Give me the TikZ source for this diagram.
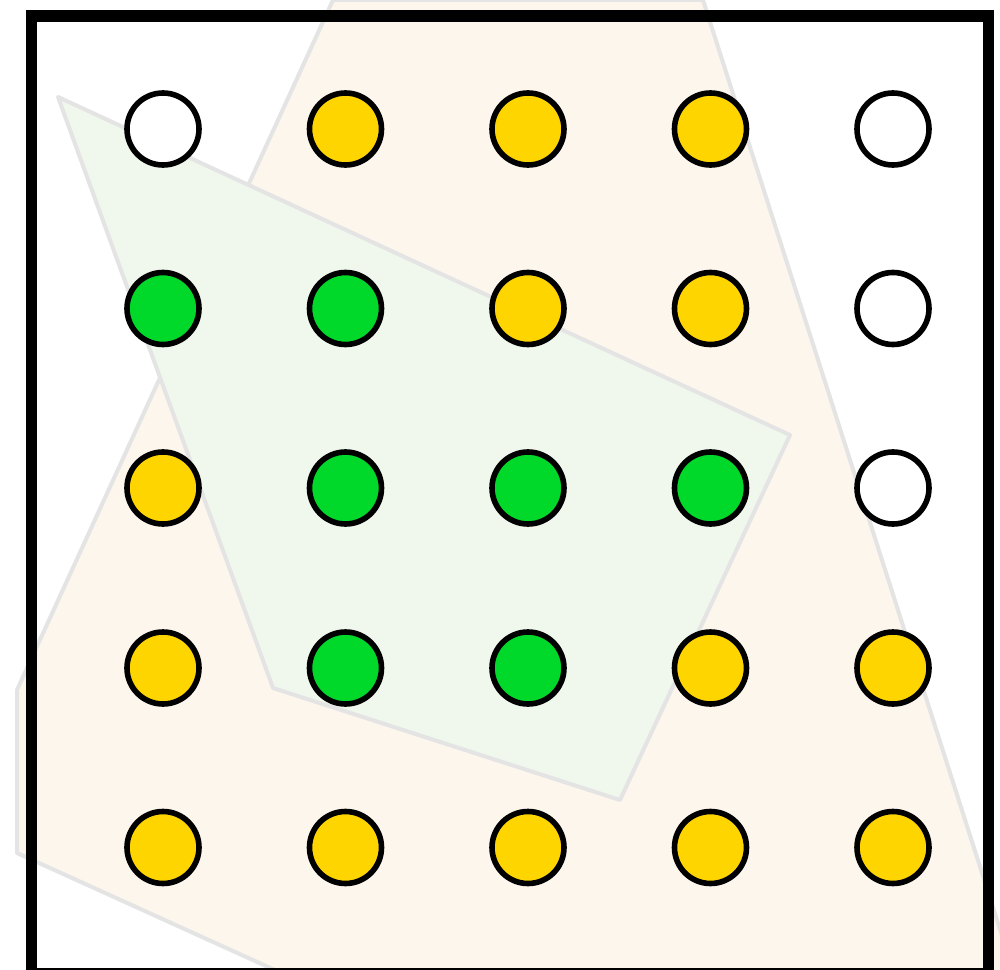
\documentclass[tikz,border=0pt]{standalone}
\definecolor{creamfill}{RGB}{253,246,236}
\definecolor{mintfill}{RGB}{240,247,236}
\definecolor{edgegray}{RGB}{228,228,228}
\definecolor{dotyellow}{RGB}{255,213,0}
\definecolor{dotgreen}{RGB}{0,216,42}
\tikzset{
  region/.style={draw=edgegray, line width=3pt, line join=round},
  dot/.style={circle, draw=black, line width=4.2pt, minimum size=54pt, inner sep=0pt},
  dotW/.style={dot, fill=white},
  dotY/.style={dot, fill=dotyellow},
  dotG/.style={dot, fill=dotgreen},
}
\begin{document}
\begin{tikzpicture}[x=0.75pt,y=-0.75pt]
\useasboundingbox (0,0) rectangle (1000,970);
\clip (0,0) rectangle (1000,970);
\fill[white] (0,0) rectangle (1000,970);
% cream region
\filldraw[region, fill=creamfill] (333,0) -- (703,0) -- (1029,1020) -- (385,1020) -- (17,853) -- (17,690) -- cycle;
% green region
\filldraw[region, fill=mintfill] (58,97) -- (790,435) -- (620,800) -- (273,688) -- cycle;
% frame
\draw[line width=8.8pt] (31.5,16) rectangle (988.5,974);
% dots
\node[dotW] (d11) at (163,129) {};
\node[dotY] (d12) at (345.5,129) {};
\node[dotY] (d13) at (528,129) {};
\node[dotY] (d14) at (710.5,129) {};
\node[dotW] (d15) at (893,129) {};
\node[dotG] (d21) at (163,308.5) {};
\node[dotG] (d22) at (345.5,308.5) {};
\node[dotY] (d23) at (528,308.5) {};
\node[dotY] (d24) at (710.5,308.5) {};
\node[dotW] (d25) at (893,308.5) {};
\node[dotY] (d31) at (163,488) {};
\node[dotG] (d32) at (345.5,488) {};
\node[dotG] (d33) at (528,488) {};
\node[dotG] (d34) at (710.5,488) {};
\node[dotW] (d35) at (893,488) {};
\node[dotY] (d41) at (163,668) {};
\node[dotG] (d42) at (345.5,668) {};
\node[dotG] (d43) at (528,668) {};
\node[dotY] (d44) at (710.5,668) {};
\node[dotY] (d45) at (893,668) {};
\node[dotY] (d51) at (163,847.5) {};
\node[dotY] (d52) at (345.5,847.5) {};
\node[dotY] (d53) at (528,847.5) {};
\node[dotY] (d54) at (710.5,847.5) {};
\node[dotY] (d55) at (893,847.5) {};
\end{tikzpicture}
\end{document}
